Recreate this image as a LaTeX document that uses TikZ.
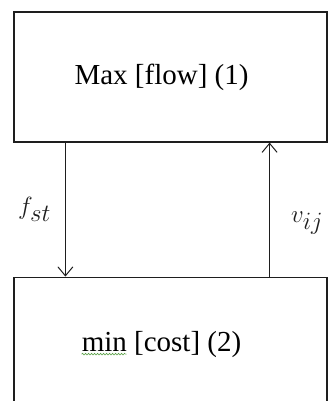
\documentclass[tikz,border=0pt]{standalone}
\usepackage{fontspec}
\setmainfont{Liberation Serif}
\usepackage{tikz}
\usetikzlibrary{arrows.meta, positioning, calc, decorations.pathmorphing}
\definecolor{LineGray}{RGB}{30, 30, 30}
\definecolor{SpellGreen}{RGB}{90, 160, 70}

\begin{document}
\begin{tikzpicture}[
    box/.style={rectangle, draw=LineGray, line width=1.2pt, fill=white, minimum width=313pt, minimum height=130pt, inner sep=0pt},
    txt/.style={inner sep=0pt, font=\fontsize{29}{34}\selectfont},
    mlbl/.style={inner sep=0pt, font=\fontsize{35}{40}\selectfont},
    arrow/.style={-{Straight Barb[length=9pt, width=15pt, line width=1pt]}, line width=1pt, color=LineGray}
]
    \clip (0,0) rectangle (328pt,-401pt);

    % Boxes
    \node[box] (maxbox) at (170.5pt,-77pt) {};
    \node[box, minimum height=134pt, below=134pt of maxbox] (minbox) {};

    % Texts
    \node[txt] (maxtxt) at ([xshift=-9pt]maxbox.center) {Max [flow] (1)};
    \node[txt] (mintxt) at ([xshift=-9pt]minbox.center) {min [cost] (2)};
    \draw[SpellGreen, line width=0.6pt, decorate, decoration={snake, amplitude=0.8pt, segment length=3pt}]
        ([yshift=-3pt]mintxt.base west) -- ++(45pt,0);

    % Connections
    \draw[arrow] ([xshift=52pt]maxbox.south west) -- node[mlbl, left=14pt]{$f_{st}$} ([xshift=52pt]minbox.north west);
    \draw[arrow] ([xshift=-58pt]minbox.north east) -- node[mlbl, right=21pt, pos=0.4]{$v_{ij}$} ([xshift=-58pt]maxbox.south east);
\end{tikzpicture}
\end{document}
